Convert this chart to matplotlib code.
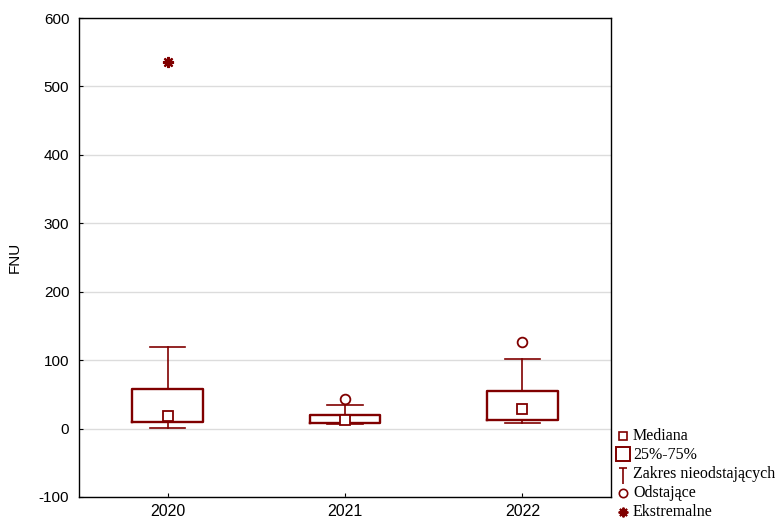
import matplotlib
matplotlib.use('Agg')
import matplotlib.pyplot as plt
from matplotlib.lines import Line2D
from matplotlib.path import Path

# values (FNU)
years = ['2020', '2021', '2022']
q1 = [9, 8, 13]
q3 = [58, 19.5, 54.5]
med = [19, 13, 29]
whislo = [1, 6, 7.5]
whishi = [119, 35, 101]
outliers = [[], [43], [126]]
extremes = [[536], [], []]

col = '#800000'
plt.rcParams['font.family'] = ['Liberation Sans', 'DejaVu Sans']
plt.rcParams['axes.unicode_minus'] = False

W, H = 777, 521
fig = plt.figure(figsize=(W/100, H/100), dpi=100)
ax = fig.add_axes([79/W, 1-497/H, 532/W, 479/H])

stats = []
for i in range(len(years)):
    stats.append({'label': years[i], 'q1': q1[i], 'q3': q3[i], 'med': med[i],
                  'whislo': whislo[i], 'whishi': whishi[i], 'fliers': []})

ax.bxp(stats, positions=[1, 2, 3], widths=0.4, showfliers=False,
       boxprops=dict(color=col, lw=1.7),
       whiskerprops=dict(color=col, lw=1.2),
       capprops=dict(color=col, lw=1.2), capwidths=0.2,
       medianprops=dict(linestyle='none'))

ax.plot([1, 2, 3], med, ls='none', marker='s', ms=7, mfc='white', mec=col, mew=1.3, zorder=3)
for i in range(len(years)):
    if outliers[i]:
        ax.plot([i+1]*len(outliers[i]), outliers[i], ls='none', marker='o', ms=7,
                mfc='white', mec=col, mew=1.3, zorder=3)
    if extremes[i]:
        ax.plot([i+1]*len(extremes[i]), extremes[i], ls='none', marker=(8, 2, 0), ms=8,
                mec=col, mew=1.6, zorder=3)

ax.set_xlim(0.5, 3.5)
ax.set_ylim(-100, 600)
ax.set_yticks(range(-100, 601, 100))
ax.set_xticks([1, 2, 3])
ax.set_xticklabels(years)
ax.yaxis.grid(True, color='#dcdcdc', lw=1)
ax.set_axisbelow(True)
ax.tick_params(direction='in', length=3, colors='black')
ax.tick_params(axis='y', labelsize=11, pad=7)
ax.tick_params(axis='x', labelsize=11.5, pad=5)
ax.set_ylabel('FNU', fontsize=11, labelpad=12)
for s in ax.spines.values():
    s.set_linewidth(1)

# legend drawn by hand on the right, below the plot area
tee = Path([(-0.5, 1), (0.5, 1), (0, 1), (0, -1)],
           [Path.MOVETO, Path.LINETO, Path.MOVETO, Path.LINETO])
leg_markers = [
    dict(marker='s', ms=6, mfc='white', mec=col, mew=1.2),
    dict(marker='s', ms=10, mfc='white', mec=col, mew=1.4),
    dict(marker=tee, ms=12, mec=col, mew=1.2),
    dict(marker='o', ms=6, mfc='white', mec=col, mew=1.2),
    dict(marker=(8, 2, 0), ms=7, mec=col, mew=1.4),
]
labels = ['Mediana', '25%-75%', 'Zakres nieodstających', 'Odstające', 'Ekstremalne']
rows = [436, 455, 474, 493, 512]
mk_rows = [436, 454, 476, 493, 512]
for m, lab, y, ym in zip(leg_markers, labels, rows, mk_rows):
    fig.add_artist(Line2D([623/W], [1-ym/H], ls='none', transform=fig.transFigure, **m))
    fig.text(633/W, 1-y/H, lab, va='center', ha='left', fontsize=11.5,
             family=['Liberation Serif', 'DejaVu Serif'])

fig.savefig('out.png', dpi=100)
